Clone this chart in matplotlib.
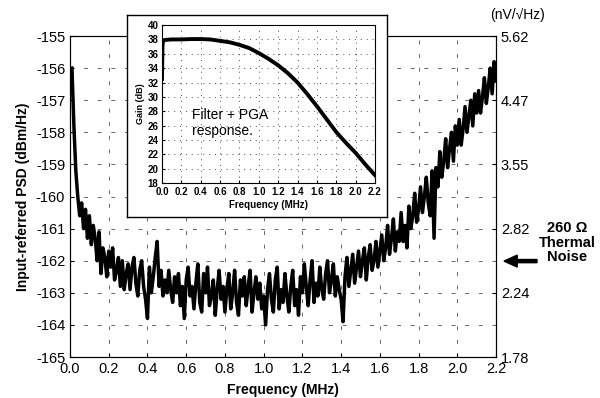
import numpy as np
import matplotlib.pyplot as plt

plt.rcParams['font.family'] = ['Liberation Sans', 'DejaVu Sans']
plt.rcParams['axes.unicode_minus'] = False

# measured input-referred noise, one value every 0.01 MHz from 0.01 to 2.20 MHz
freq = np.round(np.arange(1, 221) * 0.01, 2)
psd = [
    -156.0, -157.8, -159.2, -160.0, -160.6, -160.2, -161.0, -160.4, -161.3, -160.6,
    -161.5, -160.9, -161.3, -162.0, -161.1, -162.4, -161.6, -161.9, -162.5, -161.7,
    -162.2, -161.6, -162.6, -162.3, -161.9, -162.8, -162.0, -162.9, -162.4, -162.1,
    -162.9, -162.2, -161.9, -162.7, -163.1, -162.3, -162.0, -162.8, -163.2, -163.8,
    -162.2, -163.0, -162.5, -161.9, -161.4, -162.8, -162.3, -163.1, -162.6, -163.0,
    -162.3, -162.9, -163.3, -162.5, -163.0, -162.4, -163.4, -162.8, -163.8, -162.6,
    -162.2, -163.1, -162.8, -163.5, -162.7, -162.1, -163.3, -163.6, -162.4, -163.0,
    -162.2, -163.4, -163.1, -162.6, -163.7, -162.9, -162.3, -163.2, -162.8, -163.6,
    -162.9, -162.4, -163.5, -163.0, -162.3, -163.3, -163.7, -162.6, -163.1, -162.5,
    -163.4, -162.8, -162.3, -163.6, -163.0, -162.5, -163.2, -162.7, -163.5, -163.1,
    -164.0, -162.9, -162.4, -163.2, -163.6, -162.6, -162.2, -163.5, -162.9, -163.3,
    -162.4, -163.1, -163.6, -162.8, -162.3, -163.4, -162.9, -163.7, -162.5, -163.0,
    -162.1, -162.8, -163.4, -162.6, -162.0, -163.3, -162.7, -163.1, -162.2, -162.9,
    -163.2, -162.4, -162.0, -163.0, -162.6, -162.1, -163.1, -162.5, -162.9, -163.2,
    -163.9, -162.5, -161.9, -162.8, -162.3, -161.8, -162.7, -162.2, -161.7, -162.5,
    -162.0, -161.6, -162.6, -161.9, -161.5, -162.3, -162.0, -161.4, -162.2, -161.7,
    -161.2, -162.0, -161.6, -160.9, -161.8, -161.3, -160.7, -161.7, -161.1, -161.4,
    -160.5, -161.4, -160.9, -161.6, -160.3, -161.0, -160.6, -159.9, -160.8, -160.4,
    -159.7, -160.5, -160.0, -159.4, -160.2, -160.6, -159.2, -161.3, -159.1, -159.7,
    -158.6, -159.4, -158.9, -158.2, -159.1, -158.5, -158.0, -158.9, -157.8, -158.4,
    -157.6, -158.4, -157.9, -157.2, -158.0, -157.5, -157.0, -157.8, -156.8, -157.4,
    -156.7, -157.4, -156.9, -156.3, -157.1, -156.6, -156.0, -156.8, -155.8, -156.4,
]

# filter + PGA gain response (inset)
gain_f = [0.0, 0.005, 0.01, 0.02, 0.05, 0.1, 0.2, 0.3, 0.4, 0.5, 0.6, 0.7, 0.8, 0.9,
          1.0, 1.1, 1.2, 1.3, 1.4, 1.5, 1.6, 1.7, 1.8, 1.9, 2.0, 2.1, 2.2]
gain_db = [32.5, 37.0, 37.8, 37.9, 37.95, 38.0, 38.0, 38.05, 38.05, 38.0, 37.8, 37.6,
           37.25, 36.8, 36.1, 35.3, 34.4, 33.3, 32.0, 30.4, 28.7, 26.9, 25.1, 23.6,
           22.2, 20.6, 19.1]

right_ticks = [-155, -157, -159, -161, -163, -165]
right_labels = ['5.62', '4.47', '3.55', '2.82', '2.24', '1.78']

fig = plt.figure(figsize=(6, 3.98), dpi=100)
ax = fig.add_axes([0.1167, 0.103, 0.71, 0.8065])
ax.plot(freq, psd, color='black', lw=2.5)
ax.set_xlim(0, 2.2)
ax.set_ylim(-165, -155)
ax.set_xticks(np.arange(0, 2.21, 0.2))
ax.set_xticklabels([f'{v:.1f}' for v in np.arange(0, 2.21, 0.2)])
ax.set_yticks(range(-165, -154))
ax.tick_params(labelsize=10.5, direction='in', length=3)
ax.grid(True, color='0.4', lw=0.7, linestyle=(0, (4, 10)))
ax.set_xlabel('Frequency (MHz)', fontsize=10, fontweight='bold', labelpad=5)
ax.set_ylabel('Input-referred PSD (dBm/Hz)', fontsize=10, fontweight='bold', labelpad=4)

ax2 = ax.twinx()
ax2.set_ylim(-165, -155)
ax2.set_yticks(right_ticks)
ax2.set_yticklabels(right_labels)
ax2.tick_params(labelsize=10.5, direction='in', length=3)
fig.text(0.863, 0.962, '(nV/√Hz)', fontsize=10, ha='center', va='center')

# thermal noise marker
fig.text(0.945, 0.390, '260 Ω\nThermal\nNoise', fontsize=10.5, fontweight='bold',
         ha='center', va='center', linespacing=1.05)
fig.patches.append(plt.matplotlib.patches.FancyArrow(
    0.895, 0.344, -0.055, 0, width=0.008, head_width=0.03, head_length=0.022,
    length_includes_head=True, color='black', transform=fig.transFigure))

# inset frame and axes
frame = fig.add_axes([0.2117, 0.4548, 0.433, 0.5075])
frame.set_xticks([])
frame.set_yticks([])
for s in frame.spines.values():
    s.set_linewidth(1.0)

axi = fig.add_axes([0.27, 0.54, 0.355, 0.397])
axi.plot(gain_f, gain_db, color='black', lw=2.8)
axi.set_xlim(0, 2.2)
axi.set_ylim(18, 40)
axi.set_xticks(np.arange(0, 2.21, 0.2))
axi.set_xticklabels([f'{v:.1f}' for v in np.arange(0, 2.21, 0.2)])
axi.set_yticks(range(18, 41, 2))
axi.tick_params(axis='x', labelsize=7, direction='in', length=2, pad=3)
axi.tick_params(axis='y', labelsize=7, direction='in', length=2, pad=2.5)
for lbl in axi.get_xticklabels() + axi.get_yticklabels():
    lbl.set_fontweight('bold')
axi.grid(True, color='0.3', lw=0.7, linestyle=(0, (1, 5)))
axi.set_xlabel('Frequency (MHz)', fontsize=7, fontweight='bold', labelpad=2)
axi.set_ylabel('Gain (dB)', fontsize=6.5, fontweight='bold', labelpad=2)
axi.text(0.31, 26.4, 'Filter + PGA\nresponse.', fontsize=10, ha='left', va='center',
         linespacing=1.2)

fig.savefig('out.png', dpi=100)
